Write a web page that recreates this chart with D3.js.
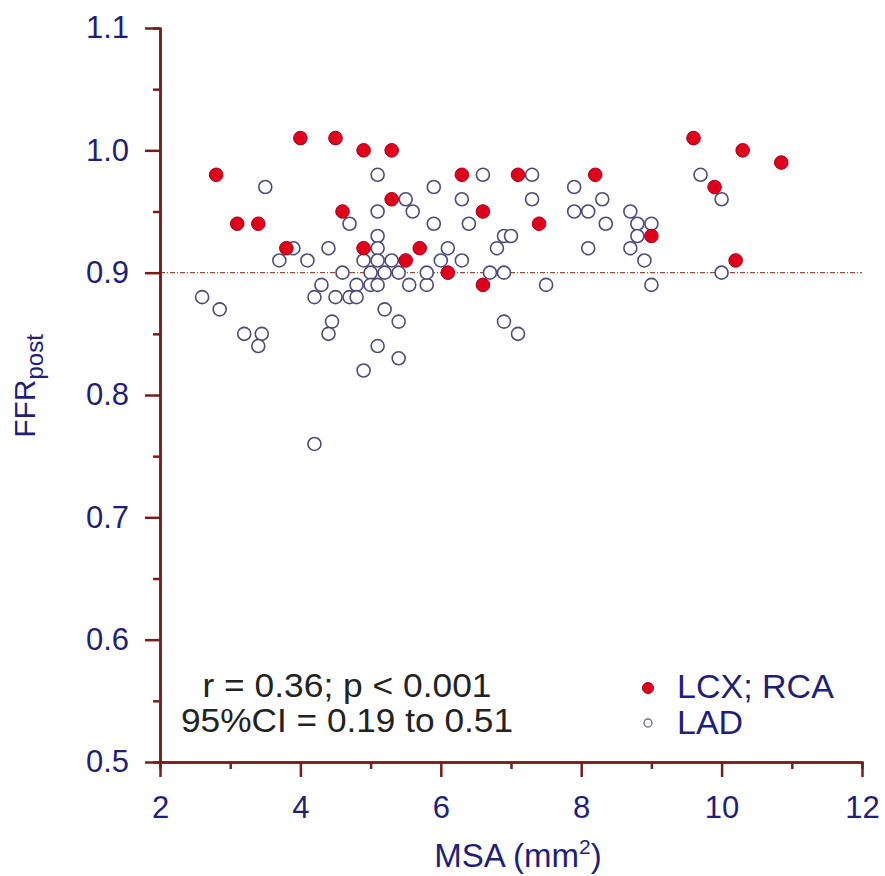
<!DOCTYPE html>
<html lang="en">
<head>
<meta charset="UTF-8" />
<title>FFR post vs MSA</title>
<script src="https://cdn.jsdelivr.net/npm/d3@7"></script>
<style>
  body { margin: 0; background: #fff; }
  svg { font-family: "Liberation Sans", Arial, sans-serif; }
</style>
</head>
<body>
<script>
// LCX; RCA vessels (filled red)
var lcxRca = [
  [2.8,0.98],[3.1,0.94],[3.4,0.94],[4.0,1.01],[4.5,1.01],[4.9,1.00],[5.3,1.00],
  [4.6,0.95],[3.8,0.92],[4.9,0.92],[5.3,0.96],[6.3,0.98],[7.1,0.98],[8.2,0.98],
  [6.6,0.95],[7.4,0.94],[5.7,0.92],[5.5,0.91],[6.1,0.90],[6.6,0.89],[9.6,1.01],
  [10.3,1.00],[10.85,0.99],[9.9,0.97],[9.0,0.93],[10.2,0.91]
];
// LAD vessels (open circles)
var lad = [
  [5.1,0.98],[3.5,0.97],[5.1,0.95],[4.7,0.94],[5.1,0.93],[5.1,0.92],[3.9,0.92],
  [4.4,0.92],[3.7,0.91],[4.1,0.91],[4.9,0.91],[5.1,0.91],[5.3,0.91],[4.6,0.90],
  [5.0,0.90],[5.2,0.90],[4.3,0.89],[4.8,0.89],[5.0,0.89],[5.1,0.89],[2.6,0.88],
  [2.85,0.87],[4.2,0.88],[4.5,0.88],[4.7,0.88],[4.8,0.88],[4.45,0.86],[5.2,0.87],
  [3.2,0.85],[3.45,0.85],[3.4,0.84],[4.4,0.85],[5.4,0.86],[5.1,0.84],[5.4,0.83],
  [4.9,0.82],[4.2,0.76],[5.55,0.89],[5.8,0.89],[6.6,0.98],[7.3,0.98],[5.9,0.97],
  [7.9,0.97],[5.5,0.96],[6.3,0.96],[7.3,0.96],[8.3,0.96],[5.6,0.95],[7.9,0.95],
  [8.1,0.95],[5.9,0.94],[6.4,0.94],[8.35,0.94],[6.9,0.93],[7.0,0.93],[6.1,0.92],
  [6.8,0.92],[8.1,0.92],[6.0,0.91],[6.3,0.91],[5.4,0.90],[5.8,0.90],[6.7,0.90],
  [6.9,0.90],[7.5,0.89],[6.9,0.86],[7.1,0.85],[9.7,0.98],[10.0,0.96],[8.7,0.95],
  [8.8,0.94],[9.0,0.94],[8.8,0.93],[8.7,0.92],[8.9,0.91],[9.0,0.89],[10.0,0.90]
];
var xTicks = [2,4,6,8,10,12];
var xMinor = [3,5,7,9,11];
var yTicks = [0.5,0.6,0.7,0.8,0.9,1.0,1.1];
var yMinor = [0.55,0.65,0.75,0.85,0.95,1.05];
var refLine = 0.9;
var legendNames = ["LCX; RCA","LAD"];
var statLines = ["r = 0.36; p < 0.001","95%CI = 0.19 to 0.51"];

var w = 885, h = 876;
var axisCol = "#7b1c1c", textCol = "#1f1f7a";

var svg = d3.select("body").append("svg").attr("width", w).attr("height", h);

var x = d3.scaleLinear().domain([2,12]).range([160,862]);
var y = d3.scaleLinear().domain([0.5,1.1]).range([762,28]);

// reference line
svg.append("line")
   .attr("x1", x(2)).attr("x2", x(12))
   .attr("y1", y(refLine)).attr("y2", y(refLine))
   .attr("stroke", "#9a4a3a").attr("stroke-width", 1.2)
   .attr("stroke-dasharray", "5,2,1,2");

// axes
function styleAxis(g) {
  g.select(".domain").attr("stroke", axisCol).attr("stroke-width", 2.5);
  g.selectAll(".tick line").attr("stroke", axisCol).attr("stroke-width", 2.5);
  g.selectAll(".tick text").attr("fill", textCol).attr("font-size", 31)
   .attr("font-family", "Liberation Sans, Arial, sans-serif");
}
svg.append("g").attr("transform", "translate(0," + y(0.5) + ")")
   .call(d3.axisBottom(x).tickValues(xMinor).tickSize(7).tickFormat(""))
   .call(styleAxis);
svg.append("g").attr("transform", "translate(" + x(2) + ",0)")
   .call(d3.axisLeft(y).tickValues(yMinor).tickSize(7).tickFormat(""))
   .call(styleAxis);
svg.append("g").attr("transform", "translate(0," + y(0.5) + ")")
   .call(d3.axisBottom(x).tickValues(xTicks).tickSize(15).tickPadding(19).tickSizeOuter(0))
   .call(styleAxis);
svg.append("g").attr("transform", "translate(" + x(2) + ",0)")
   .call(d3.axisLeft(y).tickValues(yTicks).tickSize(15).tickPadding(16).tickSizeOuter(0)
     .tickFormat(d3.format(".1f")))
   .call(styleAxis);

// points
svg.append("g").selectAll("circle").data(lad).enter().append("circle")
   .attr("cx", function(d){ return x(d[0]); })
   .attr("cy", function(d){ return y(d[1]); })
   .attr("r", 6.5)
   .attr("fill", "#fff").attr("stroke", "#4b4b78").attr("stroke-width", 1.6);
svg.append("g").selectAll("circle").data(lcxRca).enter().append("circle")
   .attr("cx", function(d){ return x(d[0]); })
   .attr("cy", function(d){ return y(d[1]); })
   .attr("r", 6.8)
   .attr("fill", "#e0001b").attr("stroke", "#a00018").attr("stroke-width", 1);

// axis titles
var yl = svg.append("text").attr("transform", "translate(35,386) rotate(-90)")
   .attr("text-anchor", "middle").attr("fill", textCol).attr("font-size", 30);
yl.append("tspan").text("FFR");
yl.append("tspan").attr("dy", 8).attr("font-size", 24).text("post");

var xl = svg.append("text").attr("x", 518).attr("y", 867)
   .attr("text-anchor", "middle").attr("fill", textCol).attr("font-size", 33);
xl.append("tspan").text("MSA (mm");
xl.append("tspan").attr("dy", -13).attr("font-size", 21).text("2");
xl.append("tspan").attr("dy", 13).text(")");

// stats annotation
svg.selectAll(".stat").data(statLines).enter().append("text")
   .attr("class", "stat")
   .attr("x", 347).attr("y", function(d,i){ return 697 + i*35; })
   .attr("text-anchor", "middle").attr("fill", "#222").attr("font-size", 33)
   .attr("textLength", function(d,i){ return i ? 332 : 289; })
   .attr("lengthAdjust", "spacingAndGlyphs")
   .text(function(d){ return d; });

// legend
var lg = svg.append("g");
lg.append("circle").attr("cx", 648).attr("cy", 688).attr("r", 5.5)
  .attr("fill", "#e0001b").attr("stroke", "#a00018");
lg.append("circle").attr("cx", 648).attr("cy", 723).attr("r", 4)
  .attr("fill", "#fff").attr("stroke", "#6a6a8a").attr("stroke-width", 1.3);
lg.selectAll("text").data(legendNames).enter().append("text")
  .attr("x", 677).attr("y", function(d,i){ return 698 + i*36; })
  .attr("fill", textCol).attr("font-size", 34)
  .text(function(d){ return d; });
</script>
</body>
</html>
